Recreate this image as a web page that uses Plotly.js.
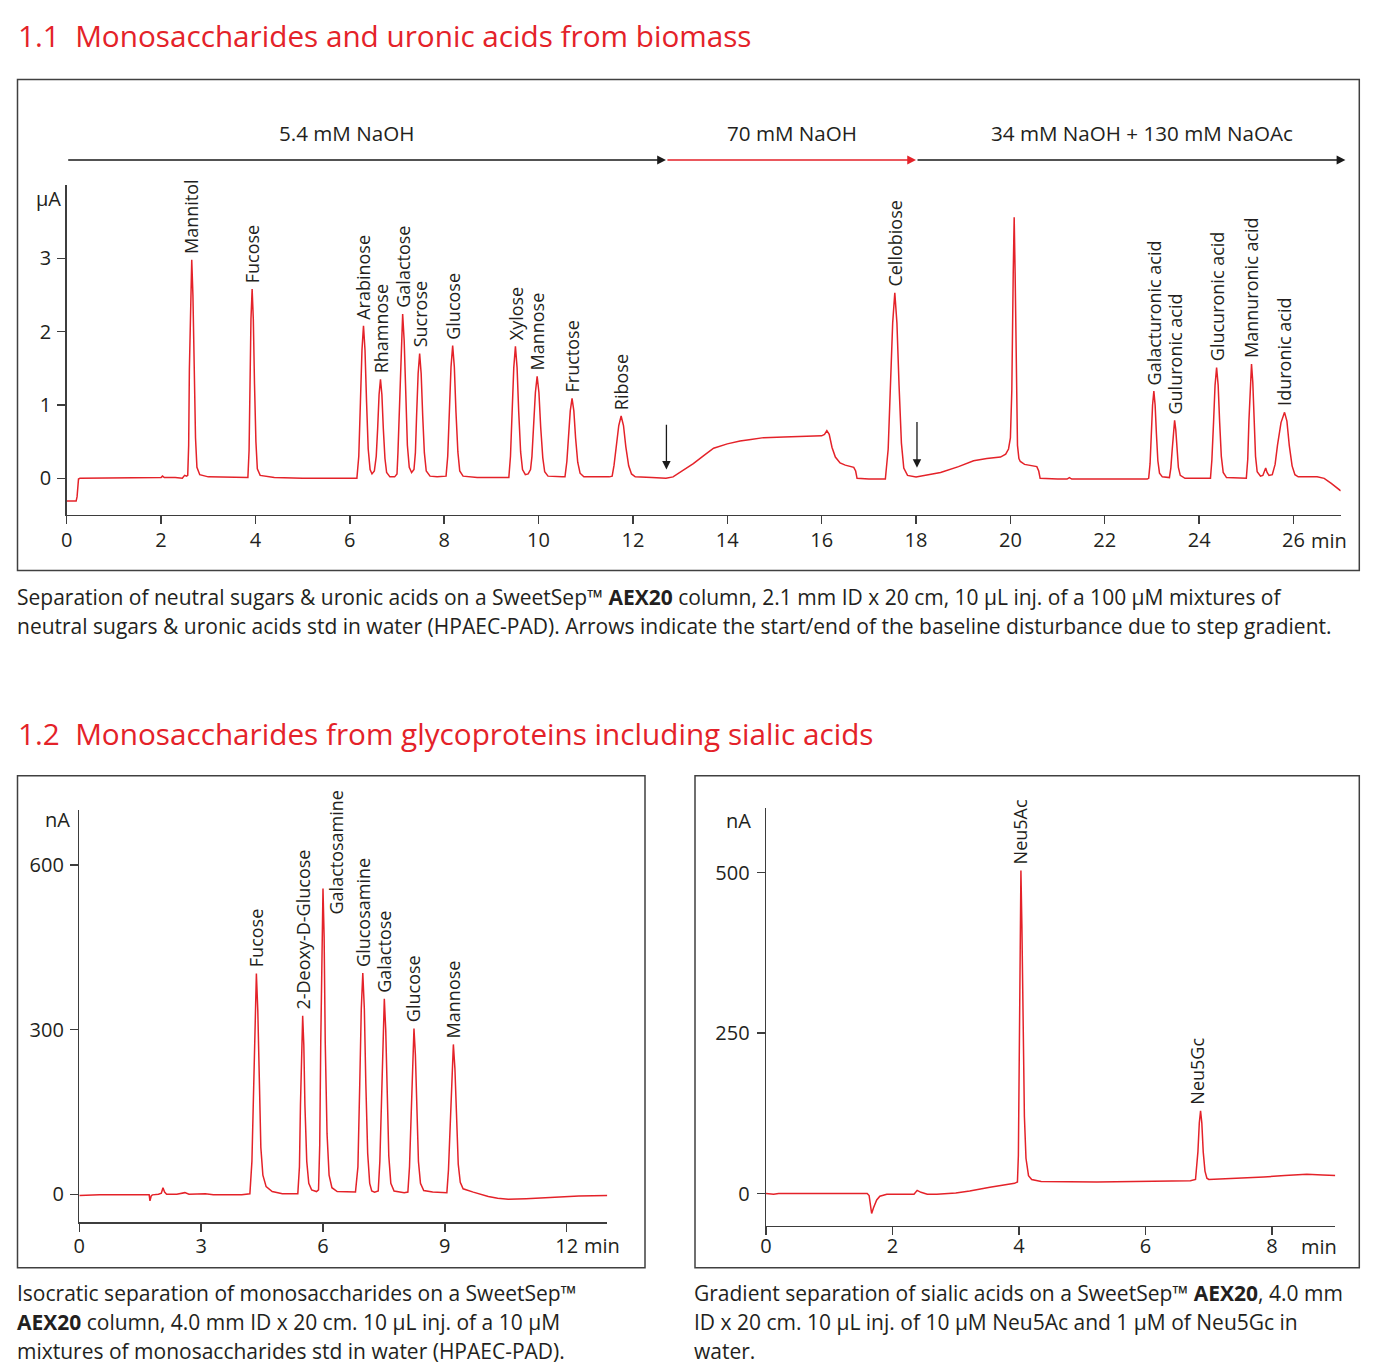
<!DOCTYPE html>
<html>
<head>
<meta charset="utf-8">
<script src="https://cdn.plot.ly/plotly-3.0.1.min.js"></script>
<style>
html,body{margin:0;padding:0;background:#fff;}
#chart{width:1382px;height:1369px;}
</style>
</head>
<body>
<div id="chart"></div>
<script>
// ---------- DATA ----------
// Chart 1.1 : time (min) and detector signal (µA)
const biomassTime = [
0,0.2,0.22,0.25,0.28,1.95,2.0,2.03,2.07,2.3,2.45,2.5,2.54,
2.565,2.585,2.6,2.625,2.65,2.675,2.7,2.73,2.76,2.82,3.0,3.5,
3.84,3.865,3.88,3.905,3.93,3.955,3.98,4.01,4.04,4.1,4.4,5.0,
6.15,6.19,6.225,6.258,6.29,6.322,6.355,6.39,6.43,6.47,
6.52,6.56,6.59,6.62,6.65,6.68,6.71,6.745,6.78,6.85,6.95,
7.0,7.02,7.055,7.088,7.12,7.152,7.185,7.22,7.26,7.31,
7.36,7.39,7.415,7.448,7.48,7.512,7.545,7.58,7.62,7.7,7.85,
8.04,8.075,8.11,8.145,8.18,8.215,8.25,8.29,8.33,8.4,8.7,
9.37,9.405,9.44,9.475,9.51,9.545,9.58,9.62,9.66,9.72,
9.78,9.83,9.86,9.895,9.933,9.97,10.008,10.045,10.09,10.13,10.2,10.5,
10.56,10.6,10.635,10.672,10.71,10.748,10.785,10.83,10.88,10.96,11.5,
11.56,11.6,11.65,11.7,11.75,11.8,11.85,11.91,11.97,12.05,12.4,12.7,
12.85,13.0,13.28,13.5,13.71,14.0,14.27,14.5,14.77,15.2,15.76,16.0,
16.06,16.11,16.16,16.22,16.29,16.39,16.5,16.68,16.72,16.75,17.0,
17.35,17.41,17.46,17.505,17.55,17.595,17.64,17.69,17.74,17.82,18.0,
18.52,18.9,19.22,19.5,19.79,19.9,19.96,20.0,20.03,20.06,20.08,20.1,20.125,20.15,
20.18,20.21,20.3,20.56,20.6,20.63,21.0,21.2,21.25,21.3,22.9,
22.93,22.96,22.985,23.013,23.04,23.067,23.095,23.125,23.16,23.22,
23.37,23.4,23.43,23.455,23.48,23.505,23.53,23.56,23.6,23.7,
24.24,24.27,24.305,24.337,24.37,24.403,24.435,24.47,24.51,24.58,
25.0,25.03,25.055,25.083,25.11,25.137,25.165,25.195,25.23,25.3,
25.35,25.38,25.41,25.44,25.48,
25.55,25.61,25.66,25.735,25.81,25.86,25.91,25.97,26.03,26.1,26.5,26.65,26.8,27.0
];
const biomassSignal = [
-0.31,-0.31,-0.25,-0.01,0,0,0.01,0.03,0.01,0.01,0,0.04,0.03,
0.04,0.45,1.49,2.5,2.98,2.5,1.49,0.55,0.15,0.05,0.02,0.01,
0.01,0.38,1.29,2.17,2.58,2.17,1.29,0.5,0.13,0.04,0.01,0,
0,0.3,1.04,1.75,2.08,1.75,1.04,0.4,0.12,0.06,
0.1,0.3,0.68,1.14,1.35,1.14,0.68,0.27,0.08,0.02,0.02,
0.06,0.35,1.12,1.88,2.24,1.88,1.12,0.45,0.15,0.08,
0.12,0.35,0.85,1.43,1.7,1.43,0.85,0.35,0.1,0.03,0.02,
0.03,0.3,0.9,1.52,1.81,1.52,0.9,0.36,0.1,0.03,0.01,
0.01,0.3,0.9,1.51,1.8,1.51,0.9,0.36,0.12,0.05,
0.06,0.12,0.3,0.7,1.17,1.39,1.17,0.7,0.28,0.09,0.03,0.02,
0.02,0.23,0.55,0.92,1.09,0.92,0.55,0.22,0.07,0.02,0.02,
0.03,0.18,0.43,0.72,0.85,0.72,0.43,0.17,0.06,0.02,0.01,0,
0.02,0.08,0.2,0.31,0.41,0.47,0.51,0.53,0.555,0.565,0.575,0.58,
0.6,0.65,0.6,0.42,0.29,0.21,0.18,0.15,0.1,0,-0.01,
-0.01,0.4,1.27,2.12,2.53,2.12,1.27,0.48,0.14,0.04,0.02,
0.08,0.16,0.24,0.27,0.29,0.33,0.4,0.55,1.2,2.8,3.56,2.8,1.2,0.45,
0.27,0.23,0.19,0.16,0.1,0,-0.01,-0.01,0.01,-0.01,-0.01,
0,0.2,0.6,1.0,1.19,1.0,0.6,0.24,0.07,0.02,
0.01,0.14,0.4,0.66,0.79,0.66,0.4,0.15,0.04,0,
0,0.25,0.76,1.27,1.51,1.27,0.76,0.3,0.08,0.01,
0,0.26,0.78,1.31,1.56,1.31,0.78,0.3,0.09,0.03,
0.04,0.1,0.14,0.08,0.04,
0.05,0.19,0.45,0.76,0.9,0.78,0.45,0.17,0.05,0.02,0.02,0,-0.07,-0.17
];
const biomassPeakNames = ['Mannitol','Fucose','Arabinose','Rhamnose','Galactose','Sucrose','Glucose','Xylose','Mannose','Fructose','Ribose','Cellobiose','Galacturonic acid','Guluronic acid','Glucuronic acid','Mannuronic acid','Iduronic acid'];
const biomassPeakTimes = [2.65,3.93,6.29,6.65,7.12,7.48,8.18,9.51,9.97,10.71,11.75,17.55,23.04,23.48,24.37,25.11,25.81];
const biomassPeakHeights = [2.98,2.58,2.08,1.35,2.24,1.70,1.81,1.80,1.39,1.09,0.85,2.53,1.19,0.79,1.51,1.56,0.90];
const biomassXTicks = [0,2,4,6,8,10,12,14,16,18,20,22,24,26];
const biomassYTicks = [0,1,2,3];
// eluent steps (min)
const gradientLabels = ['5.4 mM NaOH','70 mM NaOH','34 mM NaOH + 130 mM NaOAc'];
const gradientStart = [0,12.7,18.0];
const gradientEnd = [12.7,18.0,27.1];
const gradientLabelTime = [5.94,15.37,22.79];
const gradientColors = ['#1a1a1a','#e42229','#1a1a1a'];
// baseline disturbance arrows (min, µA)
const disturbTimes = [12.71,18.02];
const disturbTop = [0.75,0.79];
const disturbTip = [0.12,0.145];

// Chart 1.2 left : time (min) and signal (nA)
const glycoTime = [
0,0.5,1.72,1.74,1.77,1.8,1.95,2.02,2.06,2.1,2.15,2.4,2.6,2.7,3.1,3.3,4.0,
4.2,4.25,4.29,4.325,4.36,4.395,4.43,4.47,4.52,4.6,4.75,5.0,
5.38,5.42,5.445,5.472,5.5,5.528,5.555,5.6,5.65,5.72,5.84,
5.89,5.92,5.945,5.972,6.0,6.028,6.055,6.1,6.15,6.22,6.35,
6.8,6.86,6.905,6.943,6.98,7.018,7.055,7.1,7.15,7.2,7.27,
7.36,7.4,7.44,7.475,7.51,7.545,7.58,7.62,7.67,7.75,8.0,
8.09,8.13,8.17,8.205,8.24,8.275,8.31,8.35,8.4,8.48,8.7,
9.05,9.09,9.135,9.173,9.21,9.248,9.285,9.33,9.38,9.45,9.7,
10.07,10.3,10.56,11.0,11.71,12.3,13.0
];
const glycoSignal = [
-2,-1,-1,-12,-3,-1,0,2,12,4,0,0,3,0,1,-1,-1,
1,60,201,335,402,335,201,85,35,14,5,1,
1,50,162,272,325,272,162,60,20,8,5,
8,90,278,468,557,468,278,110,35,12,5,
4,50,201,338,403,338,201,75,20,6,4,
6,60,178,299,356,299,178,70,20,6,3,
4,50,151,254,302,254,151,60,20,7,4,
3,45,137,229,273,229,137,55,22,10,4,
-4,-7,-9,-8,-5,-3,-2
];
const glycoPeakNames = ['Fucose','2-Deoxy-D-Glucose','Galactosamine','Glucosamine','Galactose','Glucose','Mannose'];
const glycoLabelTimes = [4.34,5.5,6.31,6.97,7.5,8.22,9.2];
const glycoLabelHeights = [402,325,498,403,356,302,273];
const glycoXTicks = [0,3,6,9,12];
const glycoYTicks = [0,300,600];

// Chart 1.2 right : time (min) and signal (nA)
const sialicTime = [
0,0.12,0.2,1.6,1.63,1.65,1.67,1.7,1.75,1.8,1.91,2.34,2.37,2.39,2.45,2.55,2.7,
3.0,3.22,3.54,3.93,3.975,3.99,4.005,4.018,4.03,4.045,4.065,4.085,4.11,4.15,4.2,4.35,
5.23,6.0,6.71,6.79,6.81,6.828,6.85,6.87,6.89,6.912,6.94,6.97,7.0,7.5,7.87,8.2,8.55,8.8,9.0
];
const sialicSignal = [
0,-1,0,0,-3,-15,-31,-22,-10,-4,-1,-1,2,5,2,-1,-1,
1,4,10,16,18,60,200,420,503,420,250,120,55,28,22,19,
18,19,20,22,40,65,110,129,110,65,35,24,22,24,26,28,30,29,28
];
const sialicPeakNames = ['Neu5Ac','Neu5Gc'];
const sialicLabelTimes = [4.02,6.82];
const sialicLabelHeights = [503,129];
const sialicXTicks = [0,2,4,6,8];
const sialicYTicks = [0,250,500];

// ---------- TEXT ----------
const titleTop = '1.1  Monosaccharides and uronic acids from biomass';
const titleBottom = '1.2  Monosaccharides from glycoproteins including sialic acids';
const captionTop = [
 'Separation of neutral sugars &amp; uronic acids on a SweetSep\u2122 <b>AEX20</b> column, 2.1 mm ID x 20 cm, 10 \u00b5L inj. of a 100 \u00b5M mixtures of',
 'neutral sugars &amp; uronic acids std in water (HPAEC-PAD). Arrows indicate the start/end of the baseline disturbance due to step gradient.'
];
const captionLeft = [
 'Isocratic separation of monosaccharides on a SweetSep\u2122',
 '<b>AEX20</b> column, 4.0 mm ID x 20 cm. 10 \u00b5L inj. of a 10 \u00b5M',
 'mixtures of monosaccharides std in water (HPAEC-PAD).'
];
const captionRight = [
 'Gradient separation of sialic acids on a SweetSep\u2122 <b>AEX20</b>, 4.0 mm',
 'ID x 20 cm. 10 \u00b5L inj. of 10 \u00b5M Neu5Ac and 1 \u00b5M of Neu5Gc in',
 'water.'
];

// ---------- LAYOUT HELPERS ----------
const W = 1382, H = 1369;
const px = x => x / W;
const py = y => 1 - y / H;
const RED = '#e42229';
const INK = '#231f20';
const AXC = '#3d3d3d';
const FONT = 'Open Sans, Noto Sans, sans-serif';

function axis(dom, range, vals, anchor, standoff) {
  return {
    domain: dom, range: range, anchor: anchor,
    tickmode: 'array', tickvals: vals, ticktext: vals.map(String),
    showline: true, linecolor: AXC, linewidth: 1.4,
    ticks: 'outside', ticklen: 8, tickwidth: 1.4, tickcolor: AXC,
    showgrid: false, zeroline: false, fixedrange: true,
    tickfont: {family: FONT, size: 20, color: INK},
    ticklabelstandoff: standoff
  };
}

const traces = [
  {x: biomassTime, y: biomassSignal, xaxis: 'x', yaxis: 'y', mode: 'lines', line: {color: RED, width: 1.5}, hoverinfo: 'skip'},
  {x: glycoTime, y: glycoSignal, xaxis: 'x2', yaxis: 'y2', mode: 'lines', line: {color: RED, width: 1.5}, hoverinfo: 'skip'},
  {x: sialicTime, y: sialicSignal, xaxis: 'x3', yaxis: 'y3', mode: 'lines', line: {color: RED, width: 1.5}, hoverinfo: 'skip'}
];

const ann = [];
function txt(x, y, text, opts) {
  ann.push(Object.assign({xref: 'paper', yref: 'paper', x: px(x), y: py(y), text: text, showarrow: false,
    xanchor: 'left', yanchor: 'middle', font: {family: FONT, size: 21, color: INK}}, opts || {}));
}
// titles
txt(16, 36, titleTop, {font: {family: FONT, size: 29.7, color: RED}});
txt(16, 733, titleBottom, {font: {family: FONT, size: 29.7, color: RED}});
// captions
captionTop.forEach((t, i) => txt(15, 597 + 29 * i, t));
captionLeft.forEach((t, i) => txt(15, 1293 + 29 * i, t));
captionRight.forEach((t, i) => txt(692, 1293 + 29 * i, t));
// unit labels
txt(49, 198, '\u00b5A', {xanchor: 'center', font: {family: FONT, size: 20, color: INK}});
txt(57, 819, 'nA', {xanchor: 'center', font: {family: FONT, size: 20, color: INK}});
txt(739, 820, 'nA', {xanchor: 'center', font: {family: FONT, size: 20, color: INK}});
txt(1329, 540, 'min', {xanchor: 'center', font: {family: FONT, size: 20, color: INK}});
txt(602, 1245, 'min', {xanchor: 'center', font: {family: FONT, size: 20, color: INK}});
txt(1319, 1246, 'min', {xanchor: 'center', font: {family: FONT, size: 20, color: INK}});

// peak labels
function peakLabels(names, times, heights, xr, yr) {
  names.forEach((n, i) => ann.push({xref: xr, yref: yr, x: times[i], y: heights[i], text: n,
    showarrow: false, textangle: -90, xanchor: 'center', yanchor: 'bottom', yshift: 4,
    font: {family: FONT, size: 18, color: INK}}));
}
peakLabels(biomassPeakNames, biomassPeakTimes, biomassPeakHeights, 'x', 'y');
peakLabels(glycoPeakNames, glycoLabelTimes, glycoLabelHeights, 'x2', 'y2');
peakLabels(sialicPeakNames, sialicLabelTimes, sialicLabelHeights, 'x3', 'y3');

// eluent gradient arrows and labels
gradientLabels.forEach((g, i) => {
  ann.push({xref: 'x', yref: 'paper', x: gradientEnd[i], y: py(160), axref: 'x', ax: gradientStart[i], ayref: 'pixel', ay: 0,
    text: '', showarrow: true, arrowhead: 2, arrowsize: 1.35, arrowwidth: 1.3, arrowcolor: gradientColors[i], standoff: 0});
  ann.push({xref: 'x', yref: 'paper', x: gradientLabelTime[i], y: py(133), text: g, showarrow: false,
    xanchor: 'center', yanchor: 'middle', font: {family: FONT, size: 20.6, color: INK}});
});
// baseline disturbance arrows
disturbTimes.forEach((t, i) => {
  ann.push({xref: 'x', yref: 'y', x: t, y: disturbTip[i], axref: 'x', ax: t, ayref: 'y', ay: disturbTop[i],
    text: '', showarrow: true, arrowhead: 2, arrowsize: 1.3, arrowwidth: 1.3, arrowcolor: '#1a1a1a', standoff: 0});
});

const frame = (x0, y0, x1, y1) => ({type: 'rect', xref: 'paper', yref: 'paper', x0: px(x0), x1: px(x1), y0: py(y0), y1: py(y1),
  line: {color: '#404040', width: 1.5}, fillcolor: 'rgba(0,0,0,0)'});

const layout = {
  width: W, height: H, margin: {l: 0, r: 0, t: 0, b: 0},
  paper_bgcolor: '#ffffff', plot_bgcolor: 'rgba(0,0,0,0)',
  showlegend: false, hovermode: false,
  font: {family: FONT, size: 20, color: INK},
  xaxis: axis([px(66.7), px(1340.7)], [0, 27], biomassXTicks, 'y', -1),
  yaxis: axis([py(515), py(185)], [-0.5, 4.0], biomassYTicks, 'x', 2),
  xaxis2: axis([px(79.3), px(607.3)], [0, 13], glycoXTicks, 'y2', -3),
  yaxis2: axis([py(1222.3), py(810)], [-51, 700], glycoYTicks, 'x2', 2),
  xaxis3: axis([px(766), px(1335.3)], [0, 9], sialicXTicks, 'y3', -6),
  yaxis3: axis([py(1225.7), py(808.3)], [-50, 600], sialicYTicks, 'x3', 3),
  shapes: [frame(17.5, 79.5, 1359.3, 570.5), frame(17.5, 775.7, 645, 1267.7), frame(695, 775.7, 1359.3, 1267.7)],
  annotations: ann
};

Plotly.newPlot('chart', traces, layout, {staticPlot: true, displayModeBar: false});
</script>
</body>
</html>
